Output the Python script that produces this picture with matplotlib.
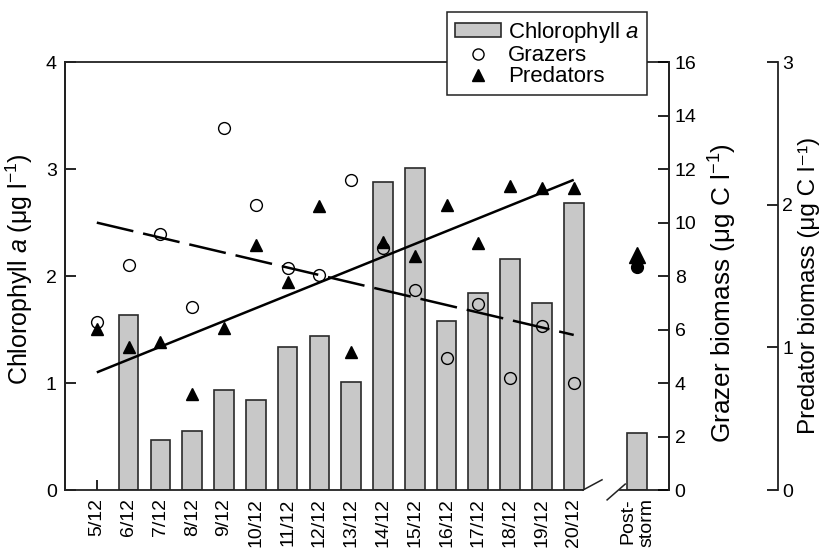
import matplotlib
matplotlib.use('Agg')
import matplotlib.pyplot as plt
from matplotlib.patches import Patch
from matplotlib.lines import Line2D
import matplotlib.transforms as mtransforms

plt.rcParams['font.family'] = ['Liberation Sans', 'DejaVu Sans']
plt.rcParams['mathtext.fontset'] = 'custom'
plt.rcParams['mathtext.rm'] = 'Liberation Sans'
plt.rcParams['mathtext.it'] = 'Liberation Sans:italic'

# sampling dates, then the post-storm sample after the axis break
dates = ['5/12', '6/12', '7/12', '8/12', '9/12', '10/12', '11/12', '12/12',
         '13/12', '14/12', '15/12', '16/12', '17/12', '18/12', '19/12', '20/12']
post_label = 'Post-\nstorm'

# chlorophyll a (ug l-1), None = no bar
chl = [None, 1.64, 0.47, 0.55, 0.94, 0.84, 1.34, 1.44,
       1.01, 2.88, 3.01, 1.58, 1.84, 2.16, 1.75, 2.68]
chl_post = 0.53

# grazer biomass (ug C l-1)
grazers = [6.28, 8.41, 9.57, 6.84, 13.53, 10.65, 8.30, 8.04,
           11.59, 9.05, 7.48, 4.93, 6.95, 4.19, 6.13, 4.00]
grazers_post = 8.35

# predator biomass (ug C l-1)
predators = [1.13, 1.00, 1.04, 0.67, 1.135, 1.72, 1.46, 1.99,
             0.97, 1.74, 1.64, 2.00, 1.73, 2.13, 2.12, 2.12]
predators_post = 1.65

# fitted trends, first and last date
chl_trend = [1.10, 2.90]
grazer_trend = [10.0, 5.8]

xs = list(range(1, len(dates) + 1))
x_post = len(dates) + 2

fig = plt.figure(figsize=(8.23, 5.55), dpi=100)
ax = fig.add_axes([0.079, 0.117, 0.734, 0.771])
ax2 = ax.twinx()
ax3 = ax.twinx()

bar_kw = dict(width=0.62, color='#c8c8c8', edgecolor='#2a2a2a', linewidth=1.2)
bx = [x for x, v in zip(xs, chl) if v is not None]
bv = [v for v in chl if v is not None]
ax.bar(bx, bv, **bar_kw)
ax.bar([x_post], [chl_post], **bar_kw)
ax.plot([xs[0], xs[-1]], chl_trend, color='black', lw=1.8, solid_capstyle='butt')

ax2.plot([xs[0], xs[-1]], grazer_trend, color='black', lw=1.8, dashes=(15, 4))
ax2.plot(xs, grazers, 'o', ms=8.5, mfc='none', mec='black', mew=1.0)
ax2.plot([x_post], [grazers_post], 'o', ms=8.5, mfc='black', mec='black')

ax3.plot(xs, predators, '^', ms=8.5, color='black')
ax3.plot([x_post], [predators_post], '^', ms=11, color='black')

ax.set_xlim(0, 19)
ax.set_ylim(0, 4)
ax2.set_ylim(0, 16)
ax3.set_ylim(0, 3)
ax.set_axisbelow(True)

ax.set_xticks(xs + [x_post])
ax.set_xticklabels(dates + [post_label], rotation=90, fontsize=14)
ax.get_xticklabels()[-1].set_multialignment('right')
ax.tick_params(axis='x', direction='in', length=7, width=1.2, pad=6)
ax.set_yticks([0, 1, 2, 3, 4])
ax.tick_params(axis='y', direction='in', length=8, width=1.2, labelsize=14, pad=6)
ax2.set_yticks(range(0, 17, 2))
ax2.tick_params(axis='y', direction='in', length=8, width=1.2, labelsize=14, pad=4)
ax3.set_yticks([0, 1, 2, 3])
ax3.tick_params(axis='y', direction='in', length=8, width=1.2, labelsize=14, pad=3)

for a in (ax, ax2, ax3):
    for s in a.spines.values():
        s.set_linewidth(1.3)
        s.set_color('#222222')
    a.spines['bottom'].set_visible(False)
ax3.spines['right'].set_position(('axes', 1.18))
ax3.spines['top'].set_visible(False)
ax2.spines['top'].set_visible(False)

# broken bottom axis
trans = mtransforms.blended_transform_factory(ax.transData, ax.transAxes)
line_kw = dict(color='#222222', transform=trans, clip_on=False)
ax.plot([0, 16.29], [0, 0], lw=1.3, **line_kw)
ax.plot([17.46, 19], [0, 0], lw=1.3, **line_kw)
ax.plot([16.29, 16.89], [0, 0.024], lw=1.1, **line_kw)
ax.plot([17.05, 17.62], [-0.023, 0.014], lw=1.1, **line_kw)

ax.set_ylabel(r'Chlorophyll $\it{a}$ (μg l$^{-1}$)', fontsize=18)
ax.yaxis.set_label_coords(-0.049, 0.516)
ax2.set_ylabel(r'Grazer biomass (μg C l$^{-1}$)', fontsize=18.8)
ax2.yaxis.set_label_coords(1.063, 0.46)
ax3.set_ylabel('Predator biomass (μg C l⁻¹)', fontsize=17.5)
ax3.yaxis.set_label_coords(1.2136, 0.479)

handles = [Patch(facecolor='#c8c8c8', edgecolor='#2a2a2a', linewidth=1.2),
           Line2D([], [], ls='none', marker='o', ms=8, mfc='none', mec='black'),
           Line2D([], [], ls='none', marker='^', ms=8, color='black')]
labels = [r'Chlorophyll $\it{a}$', 'Grazers', 'Predators']
leg = fig.legend(handles, labels, loc='upper left', bbox_to_anchor=(0.543, 0.978),
                 fontsize=16, frameon=True, fancybox=False, edgecolor='#222222',
                 framealpha=1, handlelength=2.1, handleheight=0.55, handletextpad=0.3,
                 borderpad=0.35, labelspacing=0.0, borderaxespad=0)
leg.get_frame().set_linewidth(1.1)

fig.savefig('out.png', dpi=100)
